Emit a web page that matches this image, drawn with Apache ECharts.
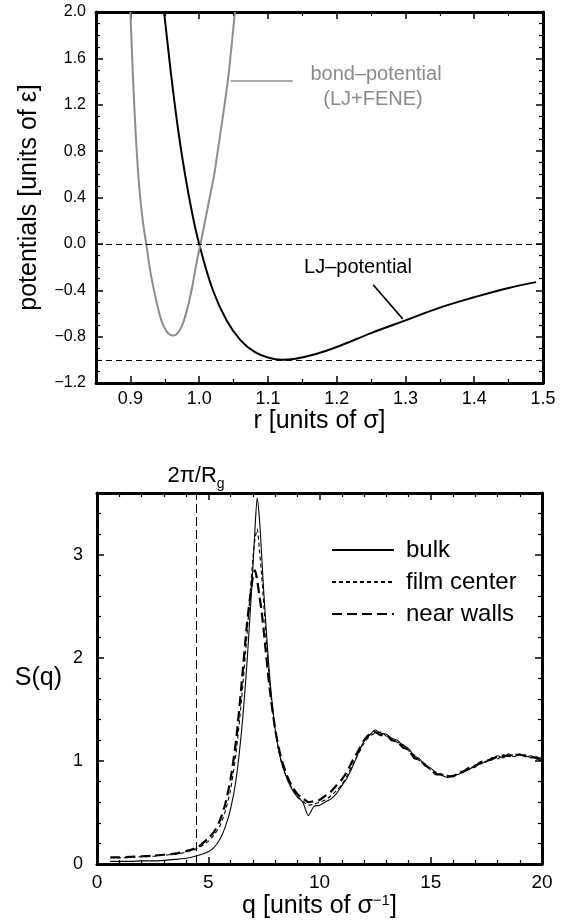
<!DOCTYPE html>
<html>
<head>
<meta charset="utf-8">
<title>potentials and S(q)</title>
<script src="https://cdn.jsdelivr.net/npm/echarts@6/dist/echarts.min.js"></script>
<style>
  html, body { margin: 0; padding: 0; background: #fff; }
  #main { width: 568px; height: 923px; }
</style>
</head>
<body>
<div id="main"></div>
<script>
// upper panel: r [sigma] -> potential [epsilon]
var rLJ = [0.949, 0.955, 0.96, 0.97, 0.98, 0.99, 1.00, 1.02, 1.04, 1.06, 1.08, 1.10, 1.12, 1.14, 1.17, 1.20, 1.25, 1.30, 1.35, 1.40, 1.45, 1.49];
var vLJ = [2.00, 1.68, 1.42, 0.96, 0.58, 0.26, 0.00, -0.40, -0.66, -0.83, -0.93, -0.98, -1.00, -0.99, -0.95, -0.89, -0.77, -0.66, -0.55, -0.46, -0.38, -0.33];

var rBond = [0.900, 0.903, 0.906, 0.909, 0.913, 0.918, 0.923, 0.930, 0.938, 0.945, 0.952, 0.958, 0.962, 0.967, 0.974, 0.981, 0.989, 0.996, 1.003, 1.010, 1.016, 1.022, 1.027, 1.034, 1.042, 1.047, 1.052];
var vBond = [2.00, 1.55, 1.15, 0.82, 0.48, 0.20, 0.00, -0.27, -0.50, -0.66, -0.75, -0.785, -0.79, -0.78, -0.72, -0.60, -0.40, -0.17, 0.03, 0.24, 0.42, 0.60, 0.80, 1.08, 1.42, 1.70, 2.00];

// lower panel: q [1/sigma] -> S(q)
var q = [0.6, 1, 1.5, 2, 2.5, 3, 3.5, 4, 4.5, 5, 5.25, 5.5, 5.75, 6, 6.25, 6.5, 6.75, 7, 7.1, 7.2, 7.3, 7.4, 7.5, 7.75, 8, 8.25, 8.5, 8.75,
  9, 9.25, 9.5, 9.75, 10, 10.25, 10.5, 10.75, 11, 11.25, 11.5, 11.75, 12, 12.25, 12.5, 12.75, 13, 13.25, 13.5, 13.75, 14, 14.25, 14.5, 14.75,
  15, 15.25, 15.5, 15.75, 16, 16.25, 16.5, 16.75, 17, 17.25, 17.5, 17.75, 18, 18.25, 18.5, 18.75, 19, 19.25, 19.5, 19.75, 20];
var sBulk = [0.025, 0.025, 0.025, 0.03, 0.03, 0.035, 0.045, 0.055, 0.08, 0.12, 0.16, 0.23, 0.35, 0.53, 0.82, 1.30, 1.98, 2.85, 3.25, 3.55, 3.35, 3.00, 2.62, 1.85, 1.32, 1.02, 0.85, 0.73,
  0.65, 0.60, 0.47, 0.56, 0.57, 0.60, 0.63, 0.68, 0.76, 0.84, 0.95, 1.08, 1.19, 1.25, 1.30, 1.27, 1.26, 1.22, 1.20, 1.15, 1.12, 1.05, 1.02, 0.95,
  0.93, 0.88, 0.86, 0.84, 0.86, 0.87, 0.90, 0.92, 0.96, 0.97, 1.00, 1.01, 1.05, 1.03, 1.07, 1.04, 1.07, 1.04, 1.05, 1.02, 1.00];
var sFilm = [0.06, 0.06, 0.065, 0.07, 0.075, 0.085, 0.095, 0.115, 0.15, 0.22, 0.28, 0.36, 0.50, 0.72, 1.08, 1.60, 2.25, 2.95, 3.15, 3.25, 3.05, 2.80, 2.50, 1.78, 1.30, 1.02, 0.85, 0.74,
  0.66, 0.61, 0.57, 0.58, 0.60, 0.62, 0.66, 0.71, 0.77, 0.86, 0.97, 1.07, 1.17, 1.24, 1.27, 1.28, 1.24, 1.21, 1.18, 1.16, 1.10, 1.06, 1.00, 0.97,
  0.91, 0.89, 0.87, 0.86, 0.85, 0.88, 0.89, 0.93, 0.94, 0.98, 0.99, 1.03, 1.02, 1.06, 1.04, 1.07, 1.05, 1.06, 1.03, 1.04, 1.01];
var sWalls = [0.065, 0.065, 0.07, 0.075, 0.08, 0.09, 0.10, 0.125, 0.16, 0.25, 0.31, 0.41, 0.57, 0.82, 1.20, 1.75, 2.35, 2.78, 2.85, 2.75, 2.60, 2.45, 2.25, 1.72, 1.32, 1.05, 0.88, 0.76,
  0.68, 0.64, 0.60, 0.61, 0.62, 0.66, 0.70, 0.76, 0.82, 0.90, 1.01, 1.10, 1.20, 1.26, 1.28, 1.25, 1.25, 1.20, 1.19, 1.13, 1.11, 1.03, 1.01, 0.96,
  0.92, 0.87, 0.87, 0.85, 0.85, 0.89, 0.90, 0.94, 0.95, 0.99, 1.00, 1.02, 1.04, 1.05, 1.05, 1.06, 1.06, 1.05, 1.04, 1.03, 1.02];
var qRg = 4.45;   // 2pi/Rg

var font = '"Liberation Sans", Arial, Helvetica, sans-serif';

function zip(xs, ys) {
  var out = [];
  for (var i = 0; i < xs.length; i++) out.push([xs[i], ys[i]]);
  return out;
}

function minus(v, digits) {
  var s = digits ? v.toFixed(digits) : String(v);
  return s.replace('-', '\u2212');
}

// one side of the box frame; ticks point inwards on every side
function frameAxis(gridIndex, position, min, max, minorSplit, label) {
  return {
    type: 'value',
    gridIndex: gridIndex,
    position: position,
    min: min,
    max: max,
    splitLine: { show: false },
    axisLine: { show: true, onZero: false, lineStyle: { color: '#000', width: 3 } },
    axisTick: { show: true, inside: true, length: 7, lineStyle: { color: '#000', width: 1.5 } },
    minorTick: { show: true, splitNumber: minorSplit, length: 4, lineStyle: { color: '#000', width: 1.2 } },
    axisLabel: label || { show: false }
  };
}

var myChart = echarts.init(document.getElementById('main'), null, { renderer: 'canvas' });

var xTop = frameAxis(0, 'bottom', 0.85, 1.5, 2, {
  show: true, fontSize: 18, color: '#000', fontFamily: font, margin: 7,
  showMinLabel: false, formatter: function (v) { return v.toFixed(1); }
});
xTop.splitNumber = 6;
xTop.name = 'r [units of \u03c3]';
xTop.nameLocation = 'middle';
xTop.nameGap = 24;
xTop.nameTextStyle = { fontSize: 25, color: '#000', fontFamily: font };
var xTopMirror = frameAxis(0, 'top', 0.85, 1.5, 2);
xTopMirror.splitNumber = 6;

var yTop = frameAxis(0, 'left', -1.2, 2.0, 4, {
  show: true, fontSize: 16, color: '#000', fontFamily: font, margin: 10,
  formatter: function (v) { return minus(v, 1); }
});
yTop.interval = 0.4;
yTop.name = 'potentials [units of \u03b5]';
yTop.nameLocation = 'middle';
yTop.nameGap = 54;
yTop.nameTextStyle = { fontSize: 25, color: '#000', fontFamily: font };
var yTopMirror = frameAxis(0, 'right', -1.2, 2.0, 4);
yTopMirror.interval = 0.4;

var xBot = frameAxis(1, 'bottom', 0, 20, 5, {
  show: true, fontSize: 19, color: '#000', fontFamily: font, margin: 9
});
xBot.interval = 5;
xBot.name = 'q [units of \u03c3{sup|\u22121}]';
xBot.nameLocation = 'middle';
xBot.nameGap = 26;
xBot.nameTextStyle = {
  fontSize: 25, color: '#000', fontFamily: font,
  rich: { sup: { fontSize: 15, fontFamily: font, color: '#000', verticalAlign: 'top', padding: [0, 0, 12, 0] } }
};
var xBotMirror = frameAxis(1, 'top', 0, 20, 5);
xBotMirror.interval = 5;

var yBot = frameAxis(1, 'left', 0, 3.6, 5, {
  show: true, fontSize: 18, color: '#000', fontFamily: font, margin: 14, showMaxLabel: false
});
yBot.interval = 1;
yBot.name = 'S(q)';
yBot.nameLocation = 'middle';
yBot.nameRotate = 0;
yBot.nameGap = 35;
yBot.nameTextStyle = { fontSize: 25, color: '#000', fontFamily: font };
var yBotMirror = frameAxis(1, 'right', 0, 3.6, 5);
yBotMirror.interval = 1;

var option = {
  backgroundColor: '#fff',
  animation: false,
  textStyle: { fontFamily: font },
  grid: [
    { left: 96, top: 12, width: 447, height: 371 },
    { left: 97, top: 493, width: 445, height: 371 }
  ],
  xAxis: [xTop, xTopMirror, xBot, xBotMirror],
  yAxis: [yTop, yTopMirror, yBot, yBotMirror],
  legend: {
    data: ['bulk', 'film center', 'near walls'],
    orient: 'vertical',
    left: 326,
    top: 533,
    itemWidth: 62,
    itemHeight: 14,
    itemGap: 8,
    itemStyle: { opacity: 0 },
    textStyle: { fontSize: 24, color: '#000', fontFamily: font, padding: [0, 0, 0, 7] }
  },
  graphic: [
    { type: 'text', x: 376, y: 74, style: { text: 'bond\u2013potential', fill: '#8a8a8a', font: '20px ' + font, align: 'center', verticalAlign: 'middle' } },
    { type: 'text', x: 373, y: 99, style: { text: '(LJ+FENE)', fill: '#8a8a8a', font: '20px ' + font, align: 'center', verticalAlign: 'middle' } },
    { type: 'text', x: 358, y: 267, style: { text: 'LJ\u2013potential', fill: '#000', font: '20px ' + font, align: 'center', verticalAlign: 'middle' } }
  ],
  series: [
    {
      name: 'LJ',
      type: 'line',
      xAxisIndex: 0, yAxisIndex: 0,
      data: zip(rLJ, vLJ),
      showSymbol: false, symbol: 'none', smooth: 0.4,
      lineStyle: { color: '#000', width: 2 },
      markLine: {
        silent: true, symbol: 'none', label: { show: false },
        lineStyle: { color: '#000', width: 1, type: [6, 4] },
        data: [
          { yAxis: 0 },
          { yAxis: -1 },
          [{ coord: [1.253, -0.353], lineStyle: { type: 'solid', width: 1.6 } }, { coord: [1.296, -0.647] }]
        ]
      }
    },
    {
      name: 'bond',
      type: 'line',
      xAxisIndex: 0, yAxisIndex: 0,
      data: zip(rBond, vBond),
      showSymbol: false, symbol: 'none', smooth: 0.4,
      lineStyle: { color: '#8c8c8c', width: 2 },
      markLine: {
        silent: true, symbol: 'none', label: { show: false },
        lineStyle: { color: '#8c8c8c', width: 1.6, type: 'solid' },
        data: [[{ coord: [1.046, 1.405] }, { coord: [1.136, 1.405] }]]
      }
    },
    {
      name: 'bulk',
      type: 'line',
      xAxisIndex: 2, yAxisIndex: 2,
      data: zip(q, sBulk),
      showSymbol: false, symbol: 'none', smooth: 0.25,
      itemStyle: { color: '#000' },
      lineStyle: { color: '#000', width: 1.1 },
      markLine: {
        silent: true, symbol: 'none',
        lineStyle: { color: '#000', width: 1, type: [9, 4] },
        label: {
          show: true, position: 'end', distance: 2, color: '#000', fontSize: 22, fontFamily: font, lineHeight: 30,
          formatter: '2\u03c0/R{g|g}',
          rich: { g: { fontSize: 14, fontFamily: font, color: '#000', verticalAlign: 'bottom', lineHeight: 14 } }
        },
        data: [{ xAxis: qRg }]
      }
    },
    {
      name: 'film center',
      type: 'line',
      xAxisIndex: 2, yAxisIndex: 2,
      data: zip(q, sFilm),
      showSymbol: false, symbol: 'none', smooth: 0.25,
      itemStyle: { color: '#000' },
      lineStyle: { color: '#000', width: 1.1, type: [4, 3] }
    },
    {
      name: 'near walls',
      type: 'line',
      xAxisIndex: 2, yAxisIndex: 2,
      data: zip(q, sWalls),
      showSymbol: false, symbol: 'none', smooth: 0.25,
      itemStyle: { color: '#000' },
      lineStyle: { color: '#000', width: 2.2, type: [10, 5] }
    }
  ]
};

myChart.setOption(option);
</script>
</body>
</html>
